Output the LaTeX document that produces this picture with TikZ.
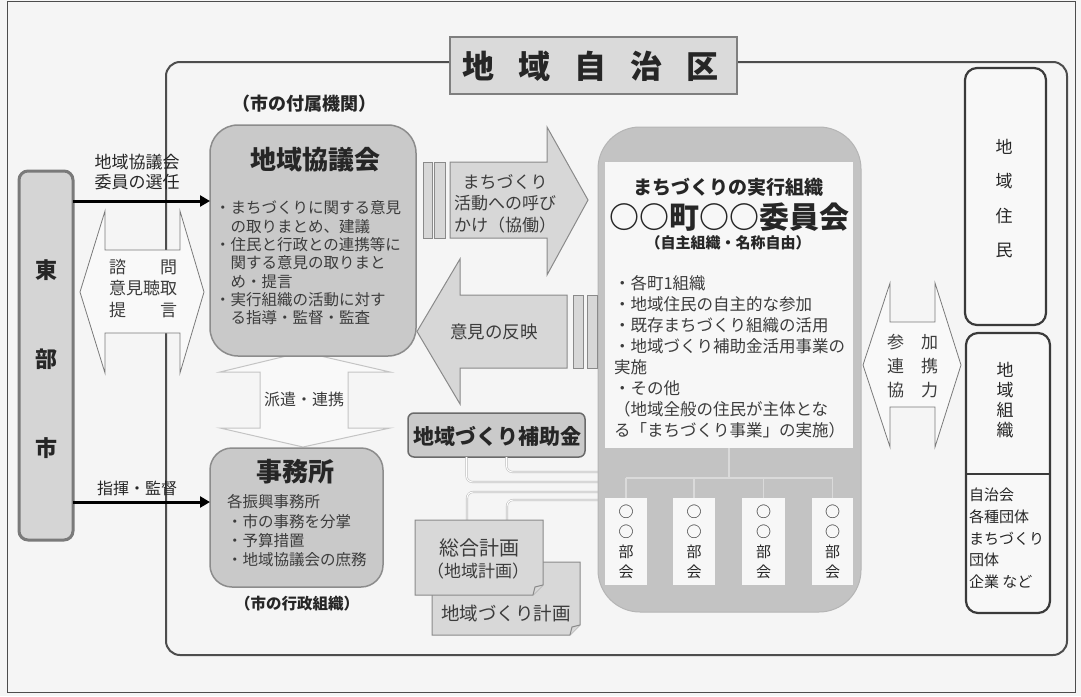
\documentclass[tikz,border=0pt]{standalone}
\usepackage{fontspec}
\setmainfont{Noto Sans CJK JP}
\usetikzlibrary{arrows.meta,calc}
\definecolor{bgc}{HTML}{F5F5F5}
\definecolor{frc}{HTML}{4D4D4D}
\definecolor{ttf}{HTML}{DADADA}
\definecolor{ttd}{HTML}{7F7F7F}
\definecolor{tbf}{HTML}{D5D5D5}
\definecolor{tbd}{HTML}{7A7A7A}
\definecolor{kyf}{HTML}{C9C9C9}
\definecolor{kyd}{HTML}{8C8C8C}
\definecolor{bigf}{HTML}{C3C3C3}
\definecolor{bigd}{HTML}{B5B5B5}
\definecolor{inf}{HTML}{F7F7F7}
\definecolor{af}{HTML}{D7D7D7}
\definecolor{ad}{HTML}{8A8A8A}
\definecolor{hf}{HTML}{F9F9F9}
\definecolor{hd}{HTML}{7A7A7A}
\definecolor{hld}{HTML}{C4C4C4}
\definecolor{txt}{HTML}{262626}
\definecolor{body}{HTML}{3C3C3C}
\definecolor{wf}{HTML}{F8F8F8}
\definecolor{wd}{HTML}{3A3A3A}
\definecolor{busc}{HTML}{DADADA}
\definecolor{flc}{HTML}{C2C2C2}
\definecolor{df}{HTML}{D8D8D8}
\definecolor{dd}{HTML}{8A8A8A}
\definecolor{hjf}{HTML}{CACACA}
\definecolor{hjd}{HTML}{6A6A6A}
\newcommand\fsz[2]{\fontsize{#1}{#2}\selectfont}
\begin{document}
\begin{tikzpicture}[x=1pt,y=-1pt,
  every node/.style={inner sep=0pt,outer sep=0pt,text=txt},
  gbox/.style={draw=kyd,fill=kyf,line width=1.5pt},
  wbox/.style={draw=wd,fill=wf,line width=2.2pt,rounded corners=12pt},
  blackarrow/.style={line width=3pt,draw=black,-{Triangle[length=10pt,width=11pt]}},
  faint/.style={draw=flc,line width=0.6pt,double=white,double distance=0.9pt,rounded corners=6pt},
  bus/.style={draw=busc,line width=1.2pt},
  hollow/.style={draw=hd,fill=hf,line width=0.8pt},
  hollowlight/.style={draw=hld,fill=hf,line width=1pt},
  fatarrow/.style={draw=ad,fill=af,line width=1pt},
  doc/.style={draw=dd,fill=df,line width=1pt},
  bodytext/.style={text=body}]
\useasboundingbox (0,0) rectangle (1081,696);
\fill[bgc] (0,0) rectangle (1081,696);
\draw[draw=frc,line width=1pt] (7,1) rectangle (1075,692);

% region frame and title
\draw[draw=frc,line width=2pt,rounded corners=14pt] (166,62) rectangle (1067,655);
\node[draw=ttd,fill=ttf,line width=1.5pt,minimum width=287pt,minimum height=57pt] (title) at (593.5,65.5) {};
\node[font=\fsz{32}{36}\bfseries] (titleT) at (590,66) {地\hspace{24pt}域\hspace{24pt}自\hspace{24pt}治\hspace{24pt}区};

% faint connectors (behind boxes)
\node[draw=hjd,fill=hjf,line width=1.5pt,rounded corners=6pt,minimum width=177pt,minimum height=44pt] (hojo) at (496.5,435) {};
\coordinate (doc1top) at (479,520);
\draw[faint] ([xshift=-30pt]hojo.south) |- (610,482);
\draw[faint] ([xshift=10pt]hojo.south) |- (610,472);
\draw[faint] ([xshift=-12pt]doc1top) |- (610,492);
\draw[faint] ([xshift=28pt]doc1top) |- (610,500);

% Toubu-shi
\node[draw=tbd,fill=tbf,line width=3pt,rounded corners=9pt,minimum width=54pt,minimum height=369pt] (toubu) at (46,355.5) {};
\node[font=\fsz{22}{89}\bfseries,align=center] (toubuT) at (46,359) {東\\部\\市};

% hollow double arrow (shimon)
\draw[hollow] (80,292) -- (105,211) -- (105,250) -- (180,250) -- (180,211) -- (204,292) -- (180,373) -- (180,333) -- (105,333) -- (105,373) -- cycle;
\node[font=\fsz{17}{21.5},align=center,bodytext] (shimon) at (143,288.5) {諮\hspace{2em}問\\意見聴取\\提\hspace{2em}言};

% haken arrow (behind boxes)
\draw[hollowlight] (303,352) -- (390,372) -- (348,372) -- (348,428) -- (390,428) -- (303,447) -- (220,428) -- (260,428) -- (260,372) -- (220,372) -- cycle;
\node[font=\fsz{16}{19},bodytext] (haken) at (304,399) {派遣・連携};

% Chiiki kyogikai
\node[font=\fsz{18}{22}\bfseries] (fuzoku) at (304,104) {（市の付属機関）};
\node[gbox,rounded corners=28pt,minimum width=206pt,minimum height=231pt] (kyogi) at (313,240.5) {};
\node[font=\fsz{26}{30}\bfseries] (kyogiT) at (315,160) {地域協議会};
\node[font=\fsz{15.5}{18.3},align=left,anchor=west,bodytext] (kyogiL) at (215,263) {・まちづくりに関する意見\\\hspace{1em}の取りまとめ、建議\\・住民と行政との連携等に\\\hspace{1em}関する意見の取りまと\\\hspace{1em}め・提言\\・実行組織の活動に対す\\\hspace{1em}る指導・監督・監査};

% Jimusho
\node[gbox,rounded corners=22pt,minimum width=173pt,minimum height=139pt] (jimu) at (296.5,517.5) {};
\node[font=\fsz{26}{30}\bfseries] (jimuT) at (295,472) {事務所};
\node[font=\fsz{15.5}{19.3},align=left,anchor=west,bodytext] (jimuL) at (227,531) {各振興事務所\\・市の事務を分掌\\・予算措置\\・地域協議会の庶務};
\node[font=\fsz{15.5}{19}\bfseries] (gyosei) at (297,604) {（市の行政組織）};

% black arrows
\coordinate (ya) at (0,201);
\coordinate (yb) at (0,502);
\draw[blackarrow] (toubu.east |- ya) -- (kyogi.west |- ya);
\draw[blackarrow] (toubu.east |- yb) -- (jimu.west |- yb);
\node[font=\fsz{17}{20},align=center] (lab1) at (137,172) {地域協議会\\委員の選任};
\node[font=\fsz{16}{19}] (lab2) at (137,488) {指揮・監督};

% big box
\node[draw=bigd,fill=bigf,line width=1pt,rounded corners=42pt,minimum width=263pt,minimum height=485pt] (big) at (729.5,369.5) {};
\node[fill=inf,minimum width=248pt,minimum height=286pt] (inner) at (729,305) {};
\node[font=\fsz{19}{22}\bfseries] (jikkou) at (728,187) {まちづくりの実行組織};
\node[font=\fsz{30}{34}\bfseries] (iinkai) at (729,217) {○○町○○委員会};
\node[font=\fsz{15}{18}\bfseries] (jishu) at (728,243) {（自主組織・名称自由）};
\node[font=\fsz{16.5}{21},align=left,anchor=west,bodytext] (biglist) at (614,356.5) {・各町1組織\\・地域住民の自主的な参加\\・既存まちづくり組織の活用\\・地域づくり補助金活用事業の\\実施\\・その他\\（地域全般の住民が主体とな\\る「まちづくり事業」の実施）};

% sub committees
\coordinate (busy) at (0,478);
\node[fill=inf,minimum width=42pt,minimum height=87pt] (bu1) at (626,541.5) {};
\node[fill=inf,minimum width=42pt,minimum height=87pt] (bu2) at (694,541.5) {};
\node[fill=inf,minimum width=43pt,minimum height=87pt] (bu3) at (763.5,541.5) {};
\node[fill=inf,minimum width=41pt,minimum height=87pt] (bu4) at (832.5,541.5) {};
\draw[bus] (inner.south) -- (inner.south |- busy);
\draw[bus] (bu1.north |- busy) -- (bu4.north |- busy);
\foreach \b in {bu1,bu2,bu3,bu4}{\draw[bus] (\b.north |- busy) -- (\b.north);}
\foreach \b in {bu1,bu2,bu3,bu4}{\node[font=\fsz{15}{20},align=center] (\b T) at (\b) {○\\○\\部\\会};}

% arrows middle
\draw[fatarrow] (423,162) rectangle (432,238);
\draw[fatarrow] (434,162) rectangle (445,238);
\draw[fatarrow] (450,162) -- (547,162) -- (547,127) -- (588,200) -- (547,275) -- (547,238) -- (450,238) -- cycle;
\node[font=\fsz{17}{21.5},align=center,bodytext] (machiT) at (505,203.5) {まちづくり\\活動への呼び\\かけ（協働）};
\draw[fatarrow] (567,295) -- (460,295) -- (460,259) -- (417,331.5) -- (460,404) -- (460,368) -- (567,368) -- cycle;
\draw[fatarrow] (573,295) rectangle (583,368);
\draw[fatarrow] (587,295) rectangle (597,368);
\node[font=\fsz{17.5}{20},bodytext] (hanei) at (494,332) {意見の反映};

% hojokin text
\node[font=\fsz{21}{24}\bfseries] (hojoT) at (497,436) {地域づくり補助金};

% documents
\draw[doc] (432,562) -- (580,562) -- (580,625) -- (570,635) -- (432,635) -- cycle;
\draw[doc] (570,635) -- (572,627) -- (580,625);
\node[font=\fsz{18.5}{22},bodytext] (dzkeikaku) at (506,613) {地域づくり計画};
\draw[doc] (415,520) -- (543,520) -- (543,585) -- (533,595) -- (415,595) -- cycle;
\draw[doc] (533,595) -- (535,587) -- (543,585);
\node[font=\fsz{20}{23},bodytext] (sougou) at (479,548) {総合計画};
\node[font=\fsz{17}{20},bodytext] (chiikikeikaku) at (478,571) {（地域計画）};

% right side
\draw[hollow] (863,365) -- (890,283) -- (890,322) -- (935,322) -- (935,283) -- (961,365) -- (935,447) -- (935,407) -- (890,407) -- (890,447) -- cycle;
\node[font=\fsz{17}{24},align=center,bodytext] (sanka) at (912.5,366) {参\hspace{1em}加\\連\hspace{1em}携\\協\hspace{1em}力};
\node[wbox,minimum width=81pt,minimum height=257pt] (jumin) at (1005.5,196.5) {};
\node[font=\fsz{17}{34.3},align=center] (juminT) at (1004,198.5) {地\\域\\住\\民};
\node[wbox,minimum width=84pt,minimum height=280pt] (soshiki) at (1008,473) {};
\draw[line width=1.5pt,draw=wd] (soshiki.west |- 0,474) -- (soshiki.east |- 0,474);
\node[font=\fsz{17}{20},align=center] (soshikiT) at (1005,400) {地\\域\\組\\織};
\node[font=\fsz{15}{21.75},align=left,anchor=west] (soshikiL) at (969,538.5) {自治会\\各種団体\\まちづくり\\団体\\企業 など};
\end{tikzpicture}
\end{document}
